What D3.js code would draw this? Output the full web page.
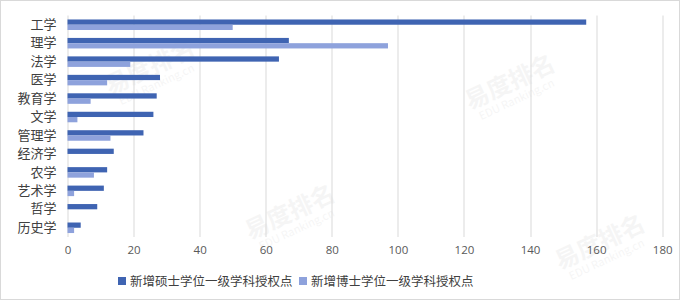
<!DOCTYPE html>
<html>
<head>
<meta charset="utf-8">
<script src="https://cdn.jsdelivr.net/npm/d3@7"></script>
<style>
  body { margin: 0; background: #fff; }
  text { font-family: "Noto Sans CJK SC", "DejaVu Sans", sans-serif; }
</style>
</head>
<body>
<div id="chart"></div>
<script>
const categories = ["工学", "理学", "法学", "医学", "教育学", "文学", "管理学", "经济学", "农学", "艺术学", "哲学", "历史学"];
const masterValues = [157, 67, 64, 28, 27, 26, 23, 14, 12, 11, 9, 4];
const doctorValues = [50, 97, 19, 12, 7, 3, 13, 0, 8, 2, 0, 2];
const seriesNames = ["新增硕士学位一级学科授权点", "新增博士学位一级学科授权点"];
const xTicks = [0, 20, 40, 60, 80, 100, 120, 140, 160, 180];

const W = 680, H = 300;
const margin = { top: 15.5, right: 18, bottom: 63, left: 67.5 };
const width = W - margin.left - margin.right,
  height = H - margin.top - margin.bottom;

const colors = ["#3F64B2", "#8EA2DC"];

const svg = d3.select("#chart")
  .append("svg")
  .attr("width", W)
  .attr("height", H);

// outer frame
svg.append("rect")
  .attr("x", 0.5).attr("y", 0.5)
  .attr("width", W - 1).attr("height", H - 1)
  .attr("fill", "#fff")
  .attr("stroke", "#d9d9d9");

// faint watermarks
const marks = [[110, 95], [470, 110], [250, 240], [560, 270]];
marks.forEach(([mx, my]) => {
  const wm = svg.append("g")
    .attr("transform", `translate(${mx},${my}) rotate(-25)`)
    .attr("fill", "#000").attr("opacity", 0.035);
  wm.append("text").attr("font-size", 24).attr("font-weight", "bold").text("易度排名");
  wm.append("text").attr("y", 14).attr("x", 6).attr("font-size", 11)
    .attr("font-family", "DejaVu Serif").text("EDU Ranking.cn");
});

const g = svg.append("g")
  .attr("transform", `translate(${margin.left},${margin.top})`);

const x = d3.scaleLinear()
  .domain([0, 180])
  .range([0, width + 0.2]);

const y = d3.scaleBand()
  .domain(categories)
  .range([0, height])
  .paddingInner(0.43)
  .paddingOuter(0.215);

const ySub = d3.scaleBand()
  .domain([0, 1])
  .range([0, y.bandwidth()]);

// gridlines
g.append("g")
  .selectAll("line")
  .data(xTicks)
  .join("line")
  .attr("x1", d => Math.round(x(d)) + 0.5)
  .attr("x2", d => Math.round(x(d)) + 0.5)
  .attr("y1", 0)
  .attr("y2", height)
  .attr("stroke", "#d9d9d9")
  .attr("stroke-width", 1);

// x tick labels
const xAxis = g.append("g")
  .attr("transform", `translate(0,${height})`)
  .call(d3.axisBottom(x).tickValues(xTicks).tickSize(0).tickPadding(9));
xAxis.select(".domain").remove();
xAxis.selectAll("text")
  .attr("fill", "#595959")
  .style("font-family", "'Open Sans', 'DejaVu Sans', sans-serif")
  .attr("font-size", 11.5);

// y labels
const yAxis = g.append("g")
  .call(d3.axisLeft(y).tickSize(0).tickPadding(11));
yAxis.select(".domain").remove();
yAxis.selectAll("text")
  .attr("fill", "#404040")
  .attr("font-size", 13);

// bars
const rows = categories.map((c, i) => ({ cat: c, vals: [masterValues[i], doctorValues[i]] }));
g.append("g")
  .selectAll("g")
  .data(rows)
  .join("g")
  .attr("transform", d => `translate(0,${y(d.cat)})`)
  .selectAll("rect")
  .data(d => d.vals.map((v, k) => ({ k, v })))
  .join("rect")
  .attr("x", 0)
  .attr("y", d => ySub(d.k))
  .attr("width", d => x(d.v))
  .attr("height", ySub.bandwidth())
  .attr("fill", d => colors[d.k]);

// legend
const legendX = [118, 299];
const legend = svg.append("g");
seriesNames.forEach((name, i) => {
  legend.append("rect")
    .attr("x", legendX[i]).attr("y", 277)
    .attr("width", 8).attr("height", 8)
    .attr("fill", colors[i]);
  legend.append("text")
    .attr("x", legendX[i] + 12).attr("y", 285.5)
    .attr("font-size", 12.5)
    .attr("fill", "#404040")
    .text(name);
});
</script>
</body>
</html>
